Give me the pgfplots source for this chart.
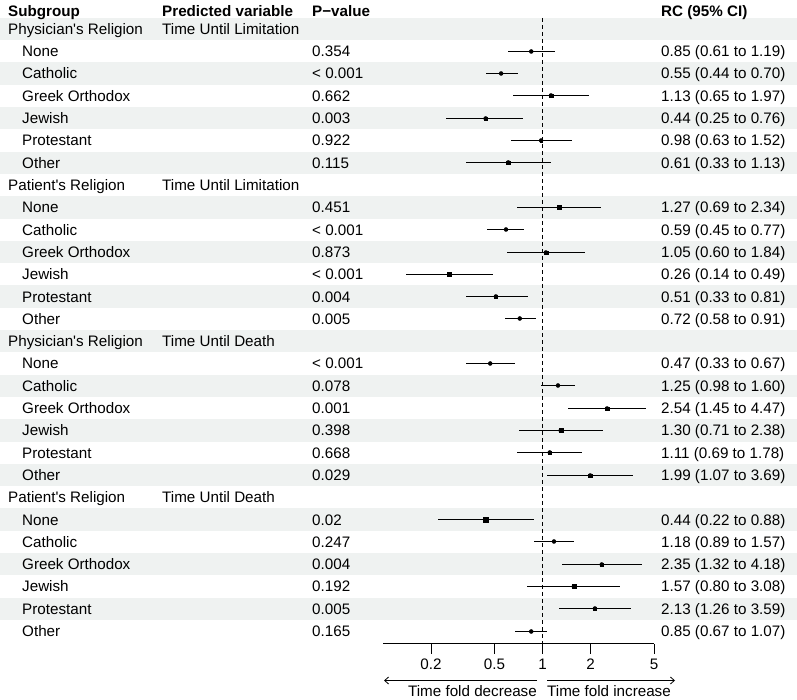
\documentclass[border=0pt]{standalone}
\usepackage{pgfplots}
\pgfplotsset{compat=1.18}
\usepackage{pgfplotstable}
\usepackage{fontspec}
\setmainfont{Liberation Sans}[Ligatures=TeXOff]
\usetikzlibrary{arrows.meta}
\definecolor{band}{RGB}{239,242,241}

% row = table line (1..28), est/lo/hi = RC and 95% CI, sz = square side
\pgfplotstableread{
row est  lo   hi   sz
2   0.85 0.61 1.19 2
3   0.55 0.44 0.70 1.5
4   1.13 0.65 1.97 3.5
5   0.44 0.25 0.76 3.5
6   0.98 0.63 1.52 2.5
7   0.61 0.33 1.13 3.5
9   1.27 0.69 2.34 4
10  0.59 0.45 0.77 1.5
11  1.05 0.60 1.84 3.5
12  0.26 0.14 0.49 4
13  0.51 0.33 0.81 3
14  0.72 0.58 0.91 1
16  0.47 0.33 0.67 2
17  1.25 0.98 1.60 1
18  2.54 1.45 4.47 3.5
19  1.30 0.71 2.38 4
20  1.11 0.69 1.78 3
21  1.99 1.07 3.69 3.5
23  0.44 0.22 0.88 4.5
24  1.18 0.89 1.57 1
25  2.35 1.32 4.18 3.5
26  1.57 0.80 3.08 4
27  2.13 1.26 3.59 3
28  0.85 0.67 1.07 1
}\forestdata

% text row: x position, row number, text
\newcommand{\txt}[3]{\node[anchor=base west, inner sep=0pt] at (axis cs:#1,{29+(#2-1)*22.3+5.4}) {#3};}
\newcommand{\grp}[3]{\txt{8}{#1}{#2}\txt{162}{#1}{#3}}
\newcommand{\itm}[4]{\txt{22}{#1}{#2}\txt{312}{#1}{#3}\txt{661}{#1}{#4}}

\begin{document}
\fontsize{15.2pt}{18pt}\selectfont
\begin{tikzpicture}[font=\fontsize{15.2pt}{18pt}\selectfont]
\begin{axis}[
  at={(0,0)}, anchor=south west,
  scale only axis, width=797pt, height=700pt,
  xmin=0, xmax=797, ymin=0, ymax=700, y dir=reverse,
  hide axis, clip=false,
]
\path (axis cs:0,0) rectangle (axis cs:797,700);
\pgfplotsinvokeforeach{1,3,...,27}{
  \fill[band] (axis cs:0,{29+(#1-1)*22.3-11.15}) rectangle (axis cs:797,{29+(#1-1)*22.3+11.15});
}
\node[anchor=base west, inner sep=0pt, font=\bfseries] at (axis cs:8,16.4) {Subgroup};
\node[anchor=base west, inner sep=0pt, font=\bfseries] at (axis cs:162,16.4) {Predicted variable};
\node[anchor=base west, inner sep=0pt, font=\bfseries] at (axis cs:312,16.4) {P−value};
\node[anchor=base west, inner sep=0pt, font=\bfseries] at (axis cs:661,16.4) {RC (95\% CI)};

\grp{1}{Physician's Religion}{Time Until Limitation}
\itm{2}{None}{0.354}{0.85 (0.61 to 1.19)}
\itm{3}{Catholic}{< 0.001}{0.55 (0.44 to 0.70)}
\itm{4}{Greek Orthodox}{0.662}{1.13 (0.65 to 1.97)}
\itm{5}{Jewish}{0.003}{0.44 (0.25 to 0.76)}
\itm{6}{Protestant}{0.922}{0.98 (0.63 to 1.52)}
\itm{7}{Other}{0.115}{0.61 (0.33 to 1.13)}
\grp{8}{Patient's Religion}{Time Until Limitation}
\itm{9}{None}{0.451}{1.27 (0.69 to 2.34)}
\itm{10}{Catholic}{< 0.001}{0.59 (0.45 to 0.77)}
\itm{11}{Greek Orthodox}{0.873}{1.05 (0.60 to 1.84)}
\itm{12}{Jewish}{< 0.001}{0.26 (0.14 to 0.49)}
\itm{13}{Protestant}{0.004}{0.51 (0.33 to 0.81)}
\itm{14}{Other}{0.005}{0.72 (0.58 to 0.91)}
\grp{15}{Physician's Religion}{Time Until Death}
\itm{16}{None}{< 0.001}{0.47 (0.33 to 0.67)}
\itm{17}{Catholic}{0.078}{1.25 (0.98 to 1.60)}
\itm{18}{Greek Orthodox}{0.001}{2.54 (1.45 to 4.47)}
\itm{19}{Jewish}{0.398}{1.30 (0.71 to 2.38)}
\itm{20}{Protestant}{0.668}{1.11 (0.69 to 1.78)}
\itm{21}{Other}{0.029}{1.99 (1.07 to 3.69)}
\grp{22}{Patient's Religion}{Time Until Death}
\itm{23}{None}{0.02}{0.44 (0.22 to 0.88)}
\itm{24}{Catholic}{0.247}{1.18 (0.89 to 1.57)}
\itm{25}{Greek Orthodox}{0.004}{2.35 (1.32 to 4.18)}
\itm{26}{Jewish}{0.192}{1.57 (0.80 to 3.08)}
\itm{27}{Protestant}{0.005}{2.13 (1.26 to 3.59)}
\itm{28}{Other}{0.165}{0.85 (0.67 to 1.07)}

\draw[line width=0.8pt, -{Straight Barb[length=4pt,width=7pt]}] (axis cs:537,680.5) -- (axis cs:384,680.5);
\draw[line width=0.8pt, -{Straight Barb[length=4pt,width=7pt]}] (axis cs:547,680.5) -- (axis cs:675,680.5);
\node[anchor=base east, inner sep=0pt] at (axis cs:537,696) {Time fold decrease};
\node[anchor=base west, inner sep=0pt] at (axis cs:547,696) {Time fold increase};
\end{axis}

\begin{axis}[
  at={(383pt,700pt)}, anchor=north west,
  scale only axis, width=271pt, height=644pt,
  xmin=-1, xmax=0.69897, ymin=-644, ymax=0,
  axis x line*=bottom, axis y line=none,
  x axis line style={-, line width=1pt},
  xtick={-0.69897,-0.30103,0,0.30103,0.69897},
  xticklabels={0.2,0.5,1,2,5},
  xtick align=outside, major tick length=10pt,
  tick style={black, line width=1pt},
  clip=false,
]
\addplot[black, line width=1pt, dash pattern=on 4pt off 3pt] coordinates {(0,-18) (0,-644)};
\addplot[only marks, mark=none,
  error bars/.cd, x dir=both, x explicit, error mark=none,
  error bar style={black, line width=1.1pt}]
  table[x expr={log10(\thisrow{est})}, y expr={-(floor(29+(\thisrow{row}-1)*22.3)+0.5)},
        x error plus expr={log10(\thisrow{hi})-log10(\thisrow{est})},
        x error minus expr={log10(\thisrow{est})-log10(\thisrow{lo})}] {\forestdata};
\addplot[only marks, mark=square*, scatter,
  scatter/use mapped color={draw=black, fill=black},
  mark options={line width=0.1pt},
  visualization depends on={\thisrow{sz} \as \sd},
  scatter/@pre marker code/.append style={/tikz/mark size={\sd/2}}]
  table[x expr={log10(\thisrow{est})}, y expr={-(floor(29+(\thisrow{row}-1)*22.3)+0.5)}] {\forestdata};
\end{axis}
\end{tikzpicture}
\end{document}
